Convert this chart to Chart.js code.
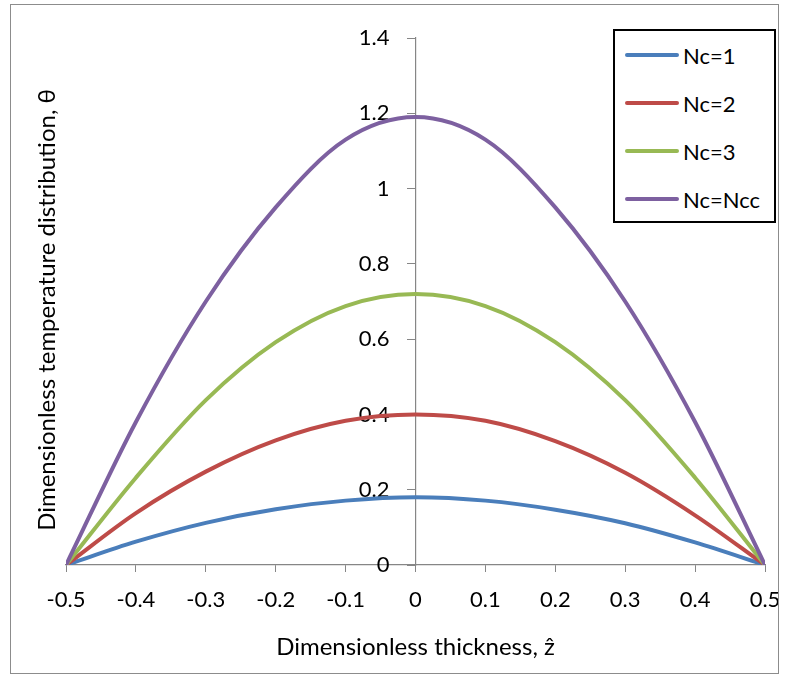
<!DOCTYPE html>
<html lang="en">
<head>
  <meta charset="UTF-8">
  <title>Dimensionless temperature distribution</title>
  <script src="https://cdn.jsdelivr.net/npm/chart.js"></script>
  <style>
    * {
      margin: 0;
      padding: 0;
      box-sizing: border-box;
    }

    body {
      background: #fff;
      font-family: 'Lato', sans-serif;
    }

    .wrap {
      position: relative;
      width: 789px;
      height: 675px;
    }

    #thetaChart {
      position: absolute;
      left: 0;
      top: 0;
    }

    /* grey outline round the whole chart */
    .frame {
      position: absolute;
      left: 10px;
      top: 4px;
      width: 769px;
      height: 670px;
      border: 1.5px solid #8c8c8c;
      pointer-events: none;
    }

    /* legend box in the upper right corner */
    #legend {
      position: absolute;
      left: 613px;
      top: 29px;
      width: 163px;
      height: 194px;
      border: 2px solid #000;
      background: #fff;
      padding-left: 10px;
    }

    .item {
      display: flex;
      align-items: center;
      height: 48px;
      font-size: 22px;
      color: #000;
    }

    .item .swatch {
      width: 54px;
      height: 4px;
      border-radius: 2px;
      margin-right: 4px;
    }
  </style>
</head>
<body>
  <div class="wrap">
    <canvas id="thetaChart" width="789" height="675"></canvas>
    <div class="frame"></div>
    <div id="legend"></div>
  </div>

  <script>
    // dimensionless thickness z
    const zValues = [-0.5, -0.4, -0.3, -0.2, -0.1, 0, 0.1, 0.2, 0.3, 0.4, 0.5];

    // theta(z) for each conduction number
    const thetaNc1 = [0, 0.062, 0.112, 0.148, 0.171, 0.180, 0.171, 0.147, 0.111, 0.060, 0];
    const thetaNc2 = [0, 0.138, 0.248, 0.331, 0.383, 0.400, 0.383, 0.329, 0.245, 0.132, 0];
    const thetaNc3 = [0, 0.232, 0.438, 0.592, 0.688, 0.720, 0.688, 0.592, 0.438, 0.232, 0];
    const thetaNcc = [0, 0.380, 0.700, 0.950, 1.130, 1.190, 1.130, 0.950, 0.700, 0.380, 0];

    const seriesNames = ["Nc=1", "Nc=2", "Nc=3", "Nc=Ncc"];
    const seriesColors = ["#4a7ebb", "#be4b48", "#98b954", "#7d60a0"];
    const seriesValues = [thetaNc1, thetaNc2, thetaNc3, thetaNcc];

    const xMin = -0.5, xMax = 0.5, xStep = 0.1;
    const yMin = 0, yMax = 1.4, yStep = 0.2;

    const axisGrey = "#868686";
    const tickFont = { family: "Lato", size: 22 };
    const titleFont = { family: "Lato", size: 24 };
    const fmt = v => String(Number(v.toFixed(1)));

    const datasets = seriesValues.map((vals, i) => ({
      label: seriesNames[i],
      data: zValues.map((z, j) => ({ x: z, y: vals[j] })),
      borderColor: seriesColors[i],
      backgroundColor: seriesColors[i],
      borderWidth: 4,
      pointRadius: 0,
      fill: false,
      cubicInterpolationMode: "monotone",
      yAxisID: "yc",
      order: seriesValues.length - i   // later series on top
    }));

    // y axis crossing at z = 0: Chart.js puts its labels right on the axis line,
    // so move them left past the tick marks. Also nudge the y title down a bit.
    const centerAxisFix = {
      id: "centerAxisFix",
      afterLayout(chart) {
        chart.scales.y.top += 17;
      },
      beforeDraw(chart) {
        const s = chart.scales.yc;
        const shift = s.options.grid.tickLength + s.options.ticks.padding;
        s.getLabelItems().forEach(item => {
          if (!item._shifted) {
            item.options.translation[0] -= shift;
            item._shifted = true;
          }
        });
      }
    };

    const ctx = document.getElementById("thetaChart").getContext("2d");
    const chart = new Chart(ctx, {
      type: "line",
      data: { datasets: datasets },
      plugins: [centerAxisFix],
      options: {
        responsive: false,
        animation: false,
        devicePixelRatio: 1,
        layout: {
          padding: { left: 20, right: 24, top: 38, bottom: 0 }
        },
        plugins: {
          legend: { display: false },
          tooltip: { enabled: false }
        },
        scales: {
          x: {
            type: "linear",
            position: "bottom",
            min: xMin,
            max: xMax,
            ticks: {
              stepSize: xStep,
              callback: v => fmt(v),
              font: tickFont,
              color: "#000",
              padding: 15,
              maxRotation: 0,
              autoSkip: false
            },
            grid: {
              drawOnChartArea: false,
              drawTicks: true,
              tickLength: 7,
              color: axisGrey,
              lineWidth: 1
            },
            border: { color: axisGrey, width: 1.2 },
            title: {
              display: true,
              text: "Dimensionless thickness, ẑ",
              font: titleFont,
              color: "#000",
              padding: { top: 0, bottom: 13 }
            },
            afterFit: s => {
              s.height = 110;
              s.paddingLeft = 0;
              s.paddingRight = 0;
            }
          },
          // left axis only carries the title; the visible axis sits at z = 0
          y: {
            type: "linear",
            position: "left",
            min: yMin,
            max: yMax,
            ticks: { display: false },
            grid: { display: false },
            border: { display: false },
            title: {
              display: true,
              text: "Dimensionless temperature distribution, θ",
              font: titleFont,
              color: "#000",
              padding: { top: 13, bottom: 0 }
            },
            afterFit: s => { s.width = 46; }
          },
          yc: {
            type: "linear",
            position: { x: 0 },
            min: yMin,
            max: yMax,
            ticks: {
              stepSize: yStep,
              callback: v => fmt(v),
              font: tickFont,
              color: "#000",
              padding: 18
            },
            grid: {
              drawOnChartArea: false,
              drawTicks: true,
              tickLength: 8,
              color: axisGrey,
              lineWidth: 1
            },
            border: { color: axisGrey, width: 1.2 },
            afterFit: s => { s.width = 0; }
          }
        }
      }
    });

    // legend built from the same dataset list
    const legend = document.getElementById("legend");
    chart.data.datasets.forEach(ds => {
      const row = document.createElement("div");
      row.className = "item";
      const sw = document.createElement("span");
      sw.className = "swatch";
      sw.style.background = ds.borderColor;
      const txt = document.createElement("span");
      txt.textContent = ds.label;
      row.appendChild(sw);
      row.appendChild(txt);
      legend.appendChild(row);
    });
  </script>
</body>
</html>
